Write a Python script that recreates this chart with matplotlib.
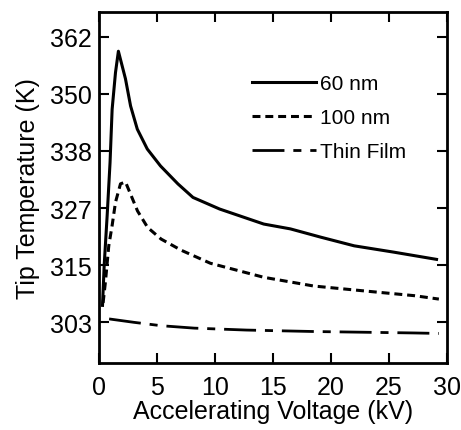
import matplotlib
matplotlib.use("Agg")
import matplotlib.pyplot as plt

plt.rcParams["font.family"] = ["Liberation Sans", "DejaVu Sans"]

# ── datos ────────────────────────────────────────────────────────────────────
v_60 = [0.3, 0.45, 0.7, 0.95, 1.13, 1.42, 1.67, 2.28, 2.72, 3.3, 4.16, 5.3,
        6.8, 8.1, 10.4, 14.2, 16.5, 19.1, 22.0, 25.4, 29.1]
t_60 = [306.5, 315.0, 325.0, 336.0, 347.0, 354.6, 359.0, 353.3, 347.7, 342.9, 338.8, 335.3,
        331.6, 328.8, 326.4, 323.3, 322.3, 320.6, 318.8, 317.5, 316.0]

v_100 = [0.35, 0.55, 0.84, 1.13, 1.42, 1.85, 2.28, 3.32, 4.19, 5.35, 7.08, 9.6,
         14.2, 18.5, 22.8, 27.2, 29.3]
t_100 = [307.0, 311.3, 318.8, 323.0, 327.8, 331.6, 332.0, 326.0, 322.6, 320.2, 317.9, 315.2,
         312.3, 310.5, 309.5, 308.5, 307.8]

v_film = [0.87, 3.0, 5.35, 8.2, 12.7, 18.5, 27.2, 29.3]
t_film = [303.7, 303.0, 302.3, 301.8, 301.4, 301.1, 300.8, 300.7]

y_ticks = [303.0, 314.8, 326.6, 338.4, 350.2, 362.0]
y_labels = ["303", "315", "327", "338", "350", "362"]
x_ticks = [0, 5, 10, 15, 20, 25, 30]

# ── grafico ──────────────────────────────────────────────────────────────────
fig = plt.figure(figsize=(4.61, 4.31), dpi=100)
ax = fig.add_axes([0.2148, 0.1555, 0.7548, 0.8143])

ax.plot(v_60, t_60, color="black", linewidth=2.2, label="60 nm")
ax.plot(v_100, t_100, color="black", linewidth=2.2, dashes=(2.6, 1.6), label="100 nm")
ax.plot(v_film, t_film, color="black", linewidth=2.0,
        dashes=(11.5, 3.2, 2.9, 3.2), label="Thin Film")

ax.set_xlim(0, 30)
ax.set_ylim(294.6, 367.1)
ax.set_xticks(x_ticks)
ax.set_yticks(y_ticks)
ax.set_yticklabels(y_labels)
ax.tick_params(direction="in", length=7, width=1.5, top=True, right=True,
               labelsize=18)
ax.tick_params(axis="x", pad=9)
ax.tick_params(axis="y", pad=5)
for s in ax.spines.values():
    s.set_linewidth(2)

ax.set_xlabel("Accelerating Voltage (kV)", fontsize=18, labelpad=0)
ax.set_ylabel("Tip Temperature (K)", fontsize=18, labelpad=7)

ax.legend(loc="upper left", bbox_to_anchor=(0.44, 0.823), frameon=False,
          fontsize=15, handlelength=3.05, handletextpad=0.22, labelspacing=0.72,
          borderaxespad=0, borderpad=0)

plt.savefig("out.png", dpi=100)
plt.close()
